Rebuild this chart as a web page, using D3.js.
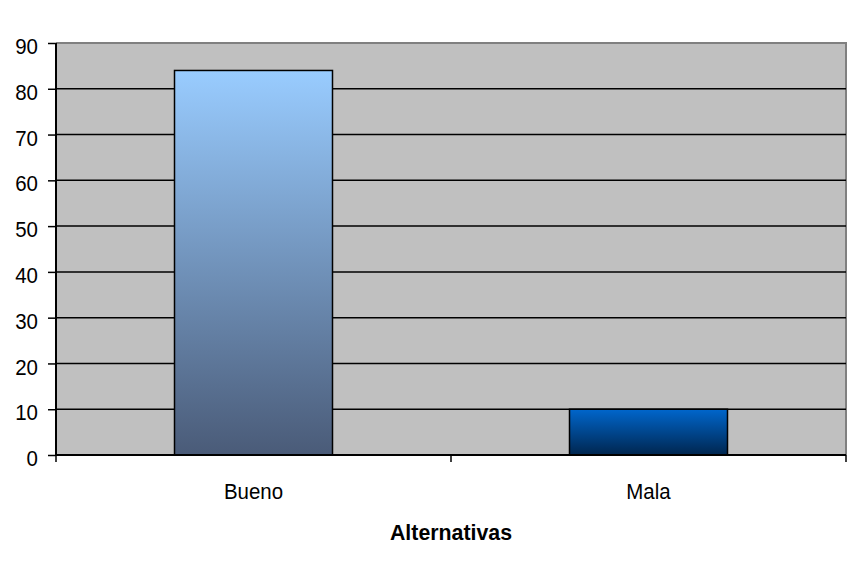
<!DOCTYPE html>
<html>
<head>
<meta charset="utf-8">
<script src="https://cdn.jsdelivr.net/npm/d3@7/dist/d3.min.js"></script>
<style>
  html, body { margin: 0; padding: 0; background: #ffffff; }
  svg { display: block; }
  text { font-family: "Liberation Sans", Arial, sans-serif; fill: #000; }
</style>
</head>
<body>
<svg id="chart" width="850" height="561"></svg>
<script>
// Survey answers per alternative
const categories = ["Bueno", "Mala"];
const values = [84, 10];
const yTicks = [0, 10, 20, 30, 40, 50, 60, 70, 80, 90];
const axisTitle = "Alternativas";

// Gradient stops for each bar (top colour, bottom colour)
const barGradients = [
  ["#99CCFF", "#4A5B78"],
  ["#0066CC", "#00264F"]
];

const W = 850, H = 561;
const margin = { top: 43, right: 4, bottom: 106, left: 56 };
const plotW = W - margin.left - margin.right;
const plotH = H - margin.top - margin.bottom;
const LABEL_SIZE = 22;
const NARROW = 0.93; // slightly condensed label glyphs

const svg = d3.select("#chart");
const defs = svg.append("defs");

barGradients.forEach((g, i) => {
  const lg = defs.append("linearGradient")
    .attr("id", "grad" + i)
    .attr("x1", 0).attr("y1", 0).attr("x2", 0).attr("y2", 1);
  lg.append("stop").attr("offset", "0%").attr("stop-color", g[0]);
  lg.append("stop").attr("offset", "100%").attr("stop-color", g[1]);
});

const x = d3.scaleBand()
  .domain(categories)
  .range([0, plotW])
  .paddingInner(0.6)
  .paddingOuter(0.3);

const y = d3.scaleLinear().domain([0, 90]).range([plotH, 0]);

const g = svg.append("g").attr("transform", `translate(${margin.left},${margin.top})`);

// plot background
g.append("rect")
  .attr("x", 0).attr("y", 0)
  .attr("width", plotW).attr("height", plotH)
  .attr("fill", "#C0C0C0");

// frame on top and right
g.append("path")
  .attr("d", `M0,0H${plotW}V${plotH}`)
  .attr("fill", "none")
  .attr("stroke", "#808080")
  .attr("stroke-width", 2);

// horizontal gridlines
g.selectAll("line.grid")
  .data(yTicks.filter(t => t > 0 && t < 90))
  .enter().append("line")
  .attr("class", "grid")
  .attr("x1", 0).attr("x2", plotW)
  .attr("y1", d => y(d)).attr("y2", d => y(d))
  .attr("stroke", "#000")
  .attr("stroke-width", 1.5);

// bars
g.selectAll("rect.bar")
  .data(values)
  .enter().append("rect")
  .attr("class", "bar")
  .attr("x", (d, i) => x(categories[i]))
  .attr("y", d => y(d))
  .attr("width", x.bandwidth())
  .attr("height", d => plotH - y(d))
  .attr("fill", (d, i) => `url(#grad${i})`)
  .attr("stroke", "#000")
  .attr("stroke-width", 1.5);

// y axis (ticks from d3, labels drawn condensed)
const yAxis = d3.axisLeft(y).tickValues(yTicks).tickSize(8).tickFormat("");
const yg = g.append("g").call(yAxis);
yg.select(".domain").attr("stroke", "#000").attr("stroke-width", 2).attr("d", `M0,${plotH}V0`);
yg.selectAll(".tick line").attr("stroke", "#000").attr("stroke-width", 1.5);
yg.selectAll(".tick").append("text")
  .attr("transform", `translate(-18,0) scale(${NARROW},1)`)
  .attr("text-anchor", "end")
  .attr("dy", "0.48em")
  .attr("font-size", LABEL_SIZE)
  .attr("fill", "#000")
  .text(d => d3.format("d")(d));

// x axis: ticks fall between categories
const xBoundaries = [0, plotW / 2, plotW];
const xg = g.append("g").attr("transform", `translate(0,${plotH})`);
xg.append("line")
  .attr("x1", 0).attr("x2", plotW)
  .attr("y1", 0).attr("y2", 0)
  .attr("stroke", "#000").attr("stroke-width", 2);
xg.selectAll("line.xt")
  .data(xBoundaries)
  .enter().append("line")
  .attr("class", "xt")
  .attr("x1", d => d).attr("x2", d => d)
  .attr("y1", 0).attr("y2", 7)
  .attr("stroke", "#000").attr("stroke-width", 1.5);
xg.selectAll("text.cat")
  .data(categories)
  .enter().append("text")
  .attr("class", "cat")
  .attr("transform", d => `translate(${x(d) + x.bandwidth() / 2},44) scale(${NARROW},1)`)
  .attr("text-anchor", "middle")
  .attr("font-size", LABEL_SIZE)
  .text(d => d);

// axis title
svg.append("text")
  .attr("transform", `translate(${margin.left + plotW / 2},540) scale(0.97,1)`)
  .attr("text-anchor", "middle")
  .attr("font-size", 22)
  .attr("font-weight", "bold")
  .text(axisTitle);
</script>
</body>
</html>
